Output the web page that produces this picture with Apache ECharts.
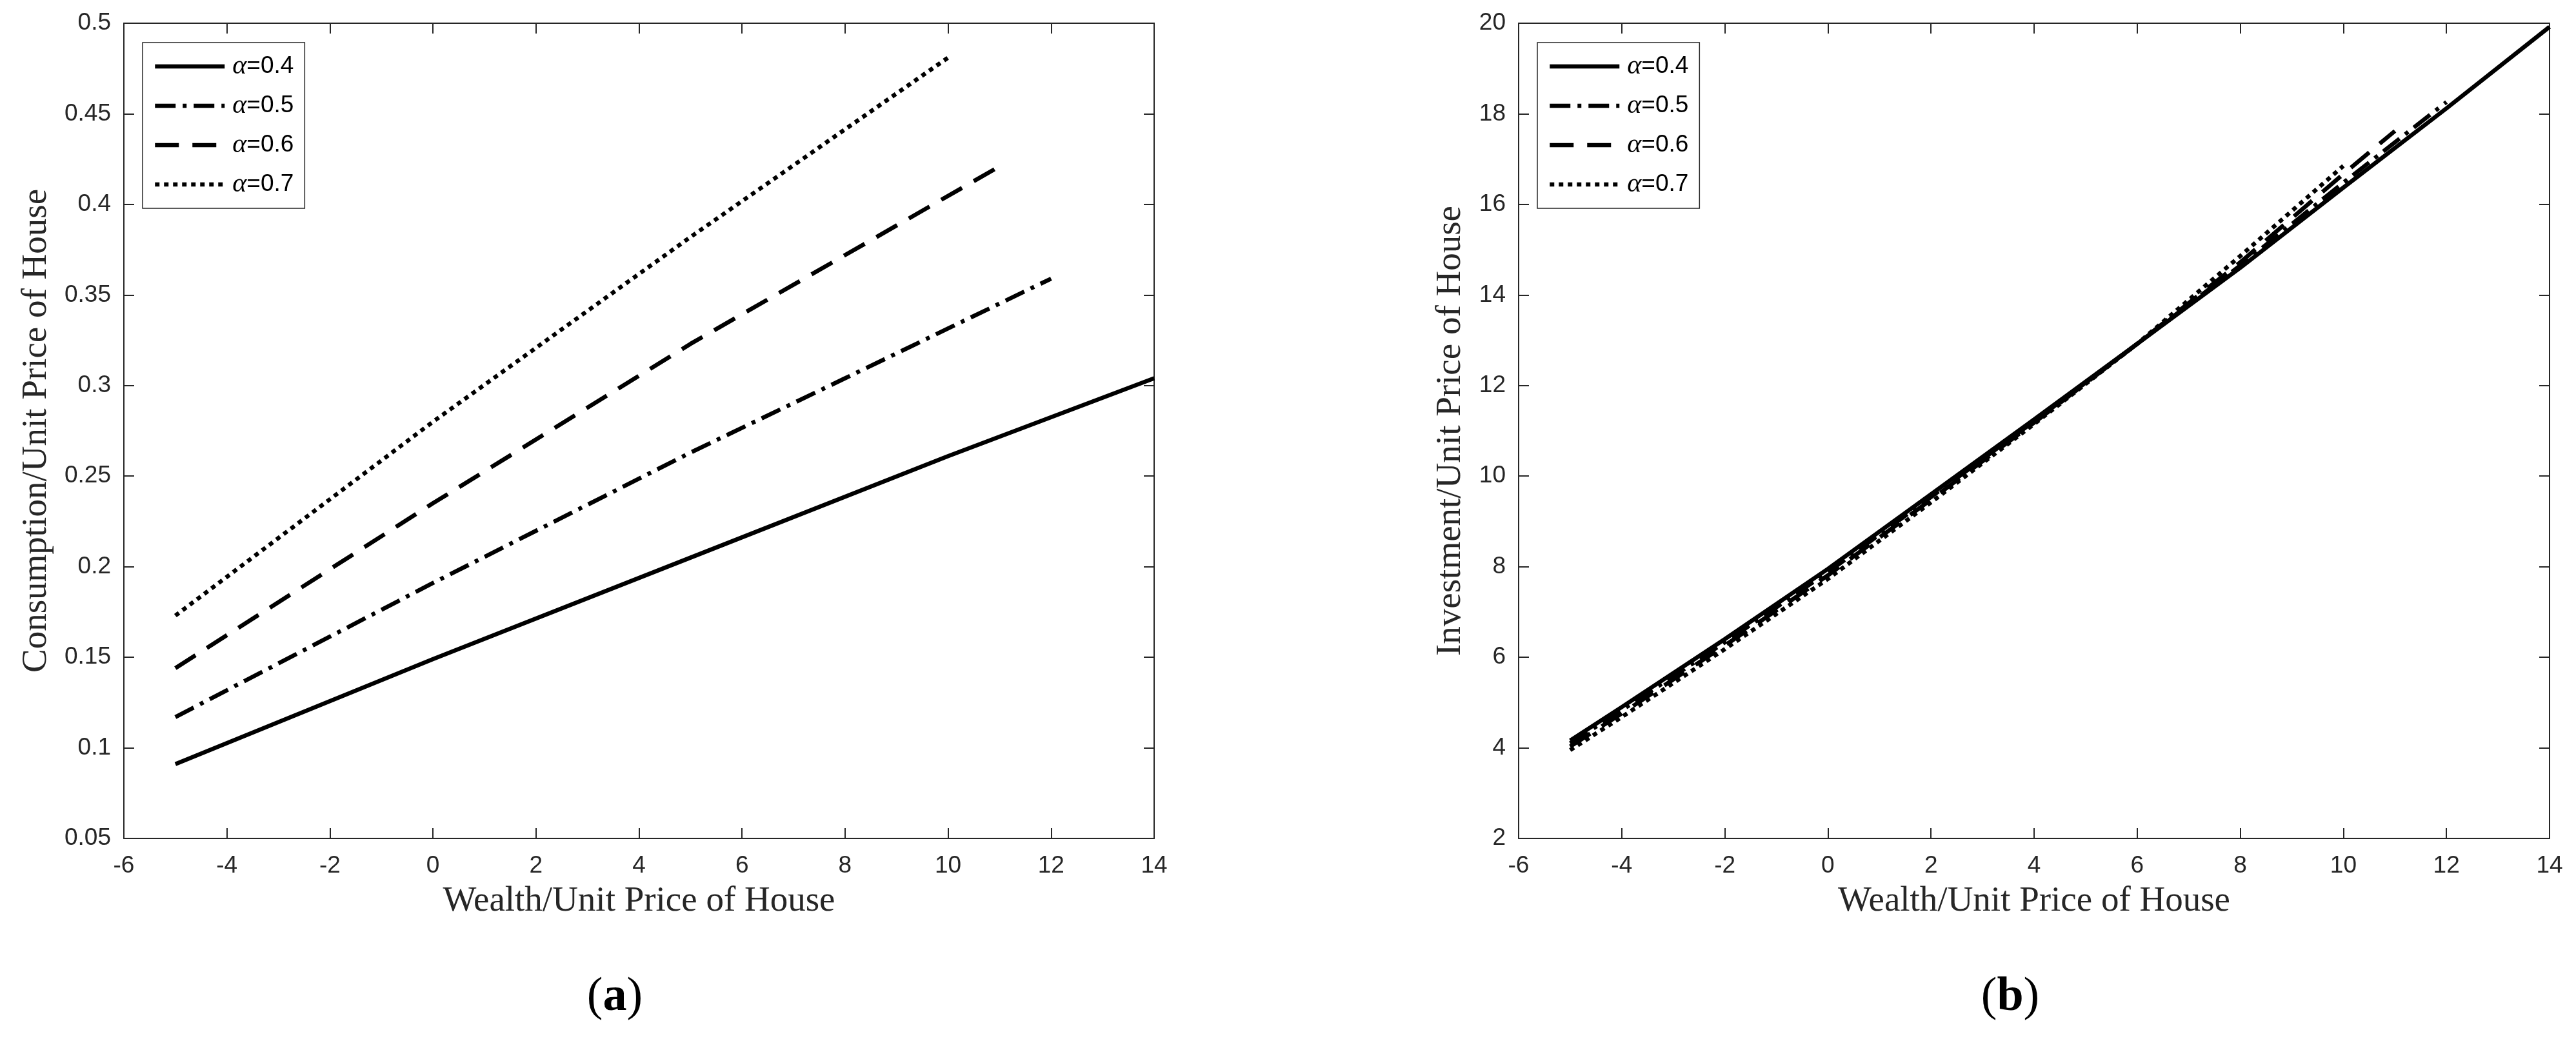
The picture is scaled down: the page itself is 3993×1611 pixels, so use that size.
<!DOCTYPE html>
<html>
<head>
<meta charset="utf-8">
<script src="https://cdn.jsdelivr.net/npm/echarts@6/dist/echarts.min.js"></script>
<style>
  html, body { margin: 0; padding: 0; background: #fff; }
  #main { width: 3993px; height: 1611px; }
</style>
</head>
<body>
<div id="main"></div>
<script>
// legend names
const alphaNames = ['α=0.4', 'α=0.5', 'α=0.6', 'α=0.7'];

// (a) consumption / unit price of house
const consX04 = [-5, 0, 5, 10, 14];
const consY04 = [0.091, 0.149, 0.205, 0.261, 0.304];
const consX05 = [-5, 0, 5, 8, 12];
const consY05 = [0.117, 0.191, 0.263, 0.304, 0.359];
const consX06 = [-5, 0, 5, 8, 11];
const consY06 = [0.144, 0.235, 0.323, 0.372, 0.421];
const consX07 = [-5, 0, 5, 10];
const consY07 = [0.173, 0.280, 0.382, 0.481];

// (b) investment / unit price of house
const invX04 = [-5, -4, -2, 0, 2, 4, 6, 8, 10, 12, 14];
const invY04 = [4.16, 4.90, 6.40, 7.95, 9.60, 11.25, 12.92, 14.60, 16.37, 18.12, 19.92];
const invX05 = [-5, -4, -2, 0, 2, 4, 6, 8, 10, 12];
const invY05 = [4.10, 4.83, 6.33, 7.88, 9.54, 11.21, 12.92, 14.65, 16.48, 18.26];
const invX06 = [-5, -4, -2, 0, 2, 4, 6, 8, 10, 11];
const invY06 = [4.03, 4.76, 6.26, 7.81, 9.48, 11.18, 12.92, 14.72, 16.67, 17.62];
const invX07 = [-5, -4, -2, 0, 2, 4, 6, 8, 10];
const invY07 = [3.95, 4.68, 6.18, 7.73, 9.42, 11.15, 12.92, 14.86, 16.85];

const lineTypes = ['solid', [32, 11, 6, 11], [37, 21], [7, 7]];
const axisColor = '#262626';
const tickFont = "'Liberation Sans', Arial, sans-serif";
const serifFont = "'Liberation Serif', 'Times New Roman', serif";

const zip = (xs, ys) => xs.map((x, i) => [x, ys[i]]);

const mkSeries = (name, xs, ys, k, axisIdx) => ({
  name: name,
  type: 'line',
  xAxisIndex: axisIdx,
  yAxisIndex: axisIdx,
  data: zip(xs, ys),
  showSymbol: false,
  symbol: 'none',
  animation: false,
  lineStyle: { color: '#000', width: 6.5, type: lineTypes[k], cap: 'butt' },
  itemStyle: { color: '#000' }
});

const mainAxis = (pos, gridIndex, min, max, interval, name, gap) => ({
  type: 'value',
  gridIndex: gridIndex,
  position: pos,
  min: min, max: max, interval: interval,
  name: name,
  nameLocation: 'middle',
  nameGap: gap,
  nameTextStyle: { fontFamily: serifFont, fontSize: 55, color: axisColor },
  axisLine: { show: true, onZero: false, lineStyle: { color: axisColor, width: 2 } },
  axisTick: { show: true, inside: true, length: 16, lineStyle: { color: axisColor, width: 2 } },
  axisLabel: { show: true, fontFamily: tickFont, fontSize: 37, color: axisColor, margin: pos === 'bottom' ? 24 : 20 },
  splitLine: { show: false }
});

// top / right edges of the box, ticks only
const boxAxis = (pos, gridIndex, min, max, interval) => ({
  type: 'value',
  gridIndex: gridIndex,
  position: pos,
  min: min, max: max, interval: interval,
  axisLine: { show: true, onZero: false, lineStyle: { color: axisColor, width: 2 } },
  axisTick: { show: true, inside: true, length: 16, lineStyle: { color: axisColor, width: 2 } },
  axisLabel: { show: false },
  splitLine: { show: false }
});

const mkLegend = (left) => ({
  data: alphaNames,
  left: left,
  top: 66,
  orient: 'vertical',
  padding: [16, 17, 16, 16],
  itemWidth: 108,
  itemHeight: 30,
  itemGap: 19,
  backgroundColor: '#fff',
  borderColor: axisColor,
  borderWidth: 1.5,
  borderRadius: 0,
  inactiveColor: '#000',
  itemStyle: { opacity: 0, borderWidth: 0 },
  lineStyle: { width: 6.5, color: '#000' },
  formatter: (n) => '{g|α}=' + n.slice(2),
  textStyle: {
    fontFamily: tickFont,
    fontSize: 37,
    color: '#000',
    padding: [0, 0, 0, 7],
    rich: {
      g: { fontFamily: serifFont, fontStyle: 'italic', fontSize: 42, color: '#000' }
    }
  }
});

const chart = echarts.init(document.getElementById('main'), null, { renderer: 'canvas' });

const option = {
  backgroundColor: '#fff',
  animation: false,
  grid: [
    { left: 192, top: 36, width: 1597, height: 1264, containLabel: false },
    { left: 2354, top: 36, width: 1598, height: 1264, containLabel: false }
  ],
  xAxis: [
    mainAxis('bottom', 0, -6, 14, 2, 'Wealth/Unit Price of House', 70),
    boxAxis('top', 0, -6, 14, 2),
    mainAxis('bottom', 1, -6, 14, 2, 'Wealth/Unit Price of House', 70),
    boxAxis('top', 1, -6, 14, 2)
  ],
  yAxis: [
    mainAxis('left', 0, 0.05, 0.5, 0.05, 'Consumption/Unit Price of House', 108),
    boxAxis('right', 0, 0.05, 0.5, 0.05),
    mainAxis('left', 1, 2, 20, 2, 'Investment/Unit Price of House', 78),
    boxAxis('right', 1, 2, 20, 2)
  ],
  legend: [mkLegend(221), mkLegend(2383)],
  series: [
    mkSeries(alphaNames[0], consX04, consY04, 0, 0),
    mkSeries(alphaNames[1], consX05, consY05, 1, 0),
    mkSeries(alphaNames[2], consX06, consY06, 2, 0),
    mkSeries(alphaNames[3], consX07, consY07, 3, 0),
    mkSeries(alphaNames[0], invX04, invY04, 0, 2),
    mkSeries(alphaNames[1], invX05, invY05, 1, 2),
    mkSeries(alphaNames[2], invX06, invY06, 2, 2),
    mkSeries(alphaNames[3], invX07, invY07, 3, 2)
  ],
  graphic: [
    {
      type: 'text', x: 953, y: 1547,
      style: {
        text: '{p|(}{b|a}{p|)}', align: 'center', verticalAlign: 'middle',
        rich: {
          p: { fontFamily: serifFont, fontSize: 74, fill: '#000' },
          b: { fontFamily: serifFont, fontSize: 74, fontWeight: 'bold', fill: '#000' }
        }
      }
    },
    {
      type: 'text', x: 3116, y: 1547,
      style: {
        text: '{p|(}{b|b}{p|)}', align: 'center', verticalAlign: 'middle',
        rich: {
          p: { fontFamily: serifFont, fontSize: 74, fill: '#000' },
          b: { fontFamily: serifFont, fontSize: 74, fontWeight: 'bold', fill: '#000' }
        }
      }
    }
  ]
};

chart.setOption(option);
</script>
</body>
</html>
